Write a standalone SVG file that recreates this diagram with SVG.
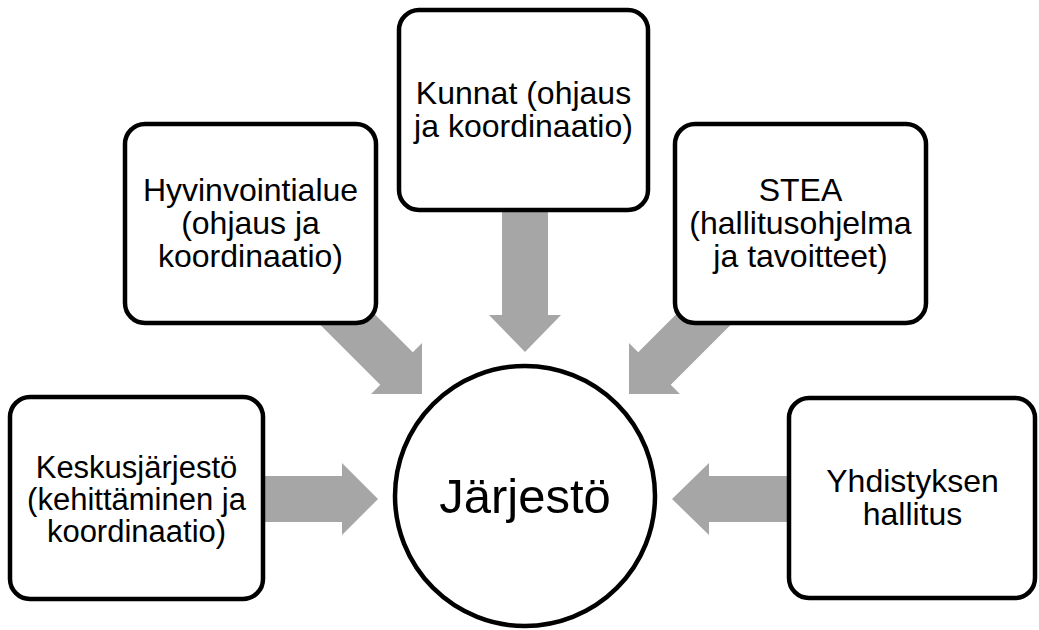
<svg xmlns="http://www.w3.org/2000/svg" width="1039" height="630" viewBox="0 0 1039 630">
<style>
.box{fill:#ffffff;stroke:#000000;stroke-width:4.5}
.arrow{fill:#a6a6a6;stroke:none}
.lbl{font-family:"Liberation Sans",Arial,sans-serif;font-size:32px;fill:#000000;text-anchor:middle}
.big{font-family:"Liberation Sans",Arial,sans-serif;font-size:49px;fill:#000000;text-anchor:middle}
</style>
<rect width="1039" height="630" fill="#ffffff"/>
<g id="connectors">
<polygon class="arrow" points="240,476 342,476 342,463 378,499 342,535 342,522 240,522"/>
<polygon class="arrow" points="810,476 709,476 709,463 672,499 709,535 709,522 810,522"/>
<polygon class="arrow" points="502,190 502,315 489,315 525,352 561,315 548,315 548,190"/>
<polygon class="arrow" points="303.7,308.3 336.3,275.7 412.75,352.25 422,343 422,394 371,394 380.25,384.75"/>
<polygon class="arrow" points="747.3,308.3 714.7,275.7 638.25,352.25 629,343 629,394 680,394 670.75,384.75"/>
</g>
<g id="node-jarjesto">
<circle class="box" cx="525" cy="496" r="130"/>
<text class="big" x="525" y="513">Järjestö</text>
</g>
<g id="node-keskusjarjesto">
<rect class="box" x="10" y="397" width="253" height="202" rx="20"/>
<text class="lbl" x="136.5" y="477.5" style="font-size:31px">Keskusjärjestö</text>
<text class="lbl" x="136.5" y="509.5" style="font-size:31px">(kehittäminen ja</text>
<text class="lbl" x="136.5" y="541.5" style="font-size:31px">koordinaatio)</text>
</g>
<g id="node-hyvinvointialue">
<rect class="box" x="125" y="124" width="251" height="199" rx="20"/>
<text class="lbl" x="250.5" y="201">Hyvinvointialue</text>
<text class="lbl" x="250.5" y="234">(ohjaus ja</text>
<text class="lbl" x="250.5" y="267">koordinaatio)</text>
</g>
<g id="node-kunnat">
<rect class="box" x="399" y="10" width="249" height="200" rx="20"/>
<text class="lbl" x="523.5" y="104">Kunnat (ohjaus</text>
<text class="lbl" x="523.5" y="137">ja koordinaatio)</text>
</g>
<g id="node-stea">
<rect class="box" x="675" y="124" width="251" height="199" rx="20"/>
<text class="lbl" x="800.5" y="201">STEA</text>
<text class="lbl" x="800.5" y="234">(hallitusohjelma</text>
<text class="lbl" x="800.5" y="267">ja tavoitteet)</text>
</g>
<g id="node-yhdistyksen-hallitus">
<rect class="box" x="789" y="398" width="246" height="200" rx="20"/>
<text class="lbl" x="912.5" y="491.5">Yhdistyksen</text>
<text class="lbl" x="912.5" y="524.5">hallitus</text>
</g>
</svg>
